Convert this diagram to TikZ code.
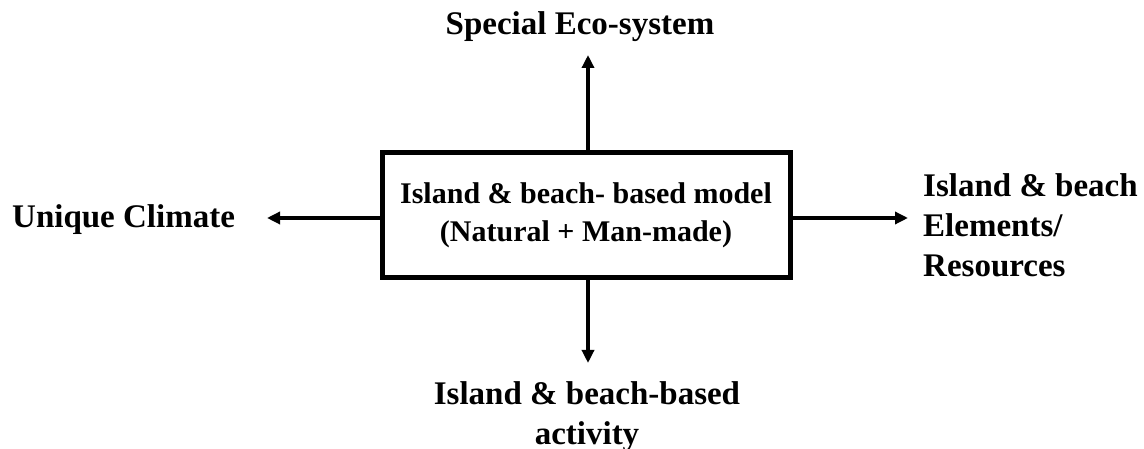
\documentclass[tikz,border=0pt]{standalone}
\usepackage{fontspec}
\setmainfont{Liberation Serif}
\usetikzlibrary{arrows.meta}
\begin{document}
\begin{tikzpicture}[x=1pt,y=1pt,
  lbl/.style={font=\fontsize{33}{40}\selectfont\bfseries, inner sep=0pt},
  arr/.style={line width=3.4pt, -{Triangle[length=13pt,width=12pt]}},
  mainbox/.style={draw, line width=5pt, minimum width=408pt, minimum height=125pt, inner sep=0pt, align=center, font=\fontsize{30}{38}\selectfont\bfseries}]
\useasboundingbox (0,0) rectangle (1144,449);
\node[mainbox] (box) at (586,233.5) {Island \& beach- based model\\(Natural + Man-made)};
\node[lbl, anchor=base] (top) at (580,414) {Special Eco-system};
\node[lbl, anchor=base west] (left) at (12,221) {Unique Climate};
\node[lbl, anchor=north west, align=left] (right) at (923,276) {Island \& beach\\Elements/\\Resources};
\node[lbl, anchor=north, align=center] (bottom) at (587,68) {Island \& beach-based\\activity};
\coordinate (tTip) at (588,394);
\coordinate (bTip) at (588,86);
\coordinate (lTip) at (267,231);
\coordinate (rTip) at (908,231);
\draw[arr] (box.north -| tTip) -- (tTip);
\draw[arr] (box.south -| bTip) -- (bTip);
\draw[arr] (box.west |- lTip) -- (lTip);
\draw[arr] (box.east |- rTip) -- (rTip);
\end{tikzpicture}
\end{document}
